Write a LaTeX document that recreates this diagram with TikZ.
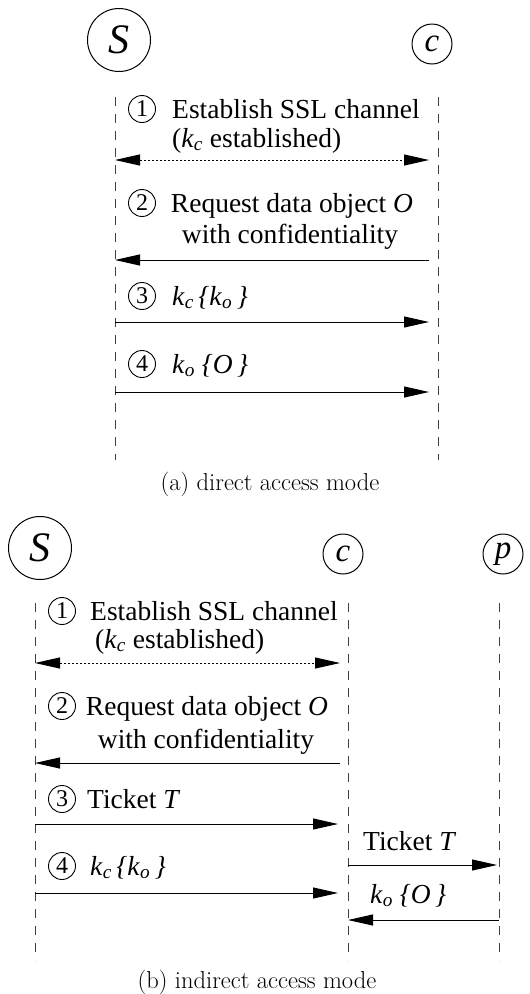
\documentclass[tikz,border=0pt]{standalone}
\usepackage{fontspec}
\newfontfamily\tnr{Liberation Serif}
\usetikzlibrary{arrows.meta}
\newcommand{\keyv}[1]{\textit{k}\textsubscript{\textit{#1}}}

\begin{document}
\begin{tikzpicture}
[x=1pt,y=-1pt,
  bigparty/.style={shape=circle,draw,line width=1pt,inner sep=0pt,minimum size=63pt,%
    font=\tnr\itshape\fontsize{42}{42}\selectfont},
  smallparty/.style={shape=circle,draw,line width=1pt,inner sep=0pt,minimum size=40pt,%
    font=\tnr\itshape\fontsize{33}{33}\selectfont},
  stepnum/.style={shape=circle,draw,line width=0.9pt,inner sep=0pt,minimum size=27pt,%
    font=\tnr\fontsize{24}{24}\selectfont},
  msgtext/.style={inner sep=0pt,font=\tnr\fontsize{27.5}{30}\selectfont},
  captext/.style={inner sep=0pt,font=\fontsize{24.5}{28}\selectfont},
  lifeline/.style={-,line width=1pt,dash pattern=on 9pt off 8pt,color=black!75},
  msgline/.style={-{Triangle[length=25pt,width=11pt]},line width=1pt},
  chanline/.style={{Triangle[length=25pt,width=11pt]}-{Triangle[length=25pt,width=11pt]},%
    line width=1pt,dash pattern=on 2pt off 2pt}]
\useasboundingbox (0,0) rectangle (530,994);
% (a) direct access mode
% parties
\node (Sa) at (119,40) [bigparty] {S};
\node (Ca) at (432,44) [smallparty] {c};
% lifelines
\coordinate (Satop) at (115,97);
\coordinate (Sabot) at (115,460);
\coordinate (Catop) at (438,97);
\coordinate (Cabot) at (438,460);
% message ends
\coordinate (sa1) at (115,160);
\coordinate (ca1) at (438,160);
\coordinate (sa2) at (115,260);
\coordinate (ca2) at (438,260);
\coordinate (sa3) at (115,322);
\coordinate (ca3) at (438,322);
\coordinate (sa4) at (115,392);
\coordinate (ca4) at (438,392);
% labels
\node (na1) at (142,109) [stepnum] {1};
\node (ta1a) at (172,118) [msgtext,anchor=base west] {Establish SSL channel};
\node (ta1b) at (172,147) [msgtext,anchor=base west] {(\keyv{c} established)};
\node (na2) at (142,203) [stepnum] {2};
\node (ta2a) at (292,212) [msgtext,anchor=base] {Request data object \textit{O}};
\node (ta2b) at (290,243) [msgtext,anchor=base] {with confidentiality};
\node (na3) at (142,296) [stepnum] {3};
\node (ta3) at (172,305) [msgtext,anchor=base west] {\keyv{c}\,\textit{\{}\keyv{o}\,\textit{\}}};
\node (na4) at (142,364) [stepnum] {4};
\node (ta4) at (172,373) [msgtext,anchor=base west] {\keyv{o} \textit{\{O}\,\textit{\}}};
\node (capa) at (270,490) [captext,anchor=base] {(a) direct access mode};
% edges
\path
(Satop) edge[lifeline] (Sabot)
(Catop) edge[lifeline] (Cabot)
(sa1) edge[chanline,shorten >=9pt] (ca1)
(ca2) edge[msgline,shorten <=9pt] (sa2)
(sa3) edge[msgline,shorten >=9pt] (ca3)
(sa4) edge[msgline,shorten >=9pt] (ca4);
% (b) indirect access mode
% parties
\node (Sb) at (40,548) [bigparty] {S};
\node (Cb) at (343,554) [smallparty] {c};
\node (Pb) at (503,554) [smallparty] {p};
% lifelines
\coordinate (Sbtop) at (35,603);
\coordinate (Sbbot) at (35,960);
\coordinate (Cbtop) at (348,603);
\coordinate (Cbbot) at (348,960);
\coordinate (Pbtop) at (499,603);
\coordinate (Pbbot) at (499,960);
% message ends
\coordinate (sb1) at (35,663);
\coordinate (cb1) at (348,663);
\coordinate (sb2) at (35,763);
\coordinate (cb2) at (348,763);
\coordinate (sb3) at (35,824);
\coordinate (cb3) at (348,824);
\coordinate (cb5) at (348,865);
\coordinate (pb5) at (499,865);
\coordinate (sb4) at (35,893);
\coordinate (cb4) at (348,893);
\coordinate (cb6) at (348,920);
\coordinate (pb6) at (499,920);
% labels
\node (nb1) at (62,611) [stepnum] {1};
\node (tb1a) at (90,620) [msgtext,anchor=base west] {Establish SSL channel};
\node (tb1b) at (95,648) [msgtext,anchor=base west] {(\keyv{c} established)};
\node (nb2) at (62,706) [stepnum] {2};
\node (tb2a) at (207,715) [msgtext,anchor=base] {Request data object \textit{O}};
\node (tb2b) at (206,748) [msgtext,anchor=base] {with confidentiality};
\node (nb3) at (62,799) [stepnum] {3};
\node (tb3) at (87,808) [msgtext,anchor=base west] {Ticket \textit{T}};
\node (tb5) at (363,850) [msgtext,anchor=base west] {Ticket \textit{T}};
\node (nb4) at (62,866) [stepnum] {4};
\node (tb4) at (90,875) [msgtext,anchor=base west] {\keyv{c}\,\textit{\{}\keyv{o}\,\textit{\}}};
\node (tb6) at (370,903) [msgtext,anchor=base west] {\keyv{o} \textit{\{O}\,\textit{\}}};
\node (capb) at (257,988) [captext,anchor=base] {(b) indirect access mode};
% edges
\path
(Sbtop) edge[lifeline] (Sbbot)
(Cbtop) edge[lifeline] (Cbbot)
(Pbtop) edge[lifeline] (Pbbot)
(sb1) edge[chanline,shorten >=8pt] (cb1)
(cb2) edge[msgline,shorten <=8pt] (sb2)
(sb3) edge[msgline,shorten >=10pt] (cb3)
(cb5) edge[msgline,shorten >=2pt] (pb5)
(sb4) edge[msgline,shorten >=10pt] (cb4)
(pb6) edge[msgline] (cb6);
\end{tikzpicture}
\end{document}
